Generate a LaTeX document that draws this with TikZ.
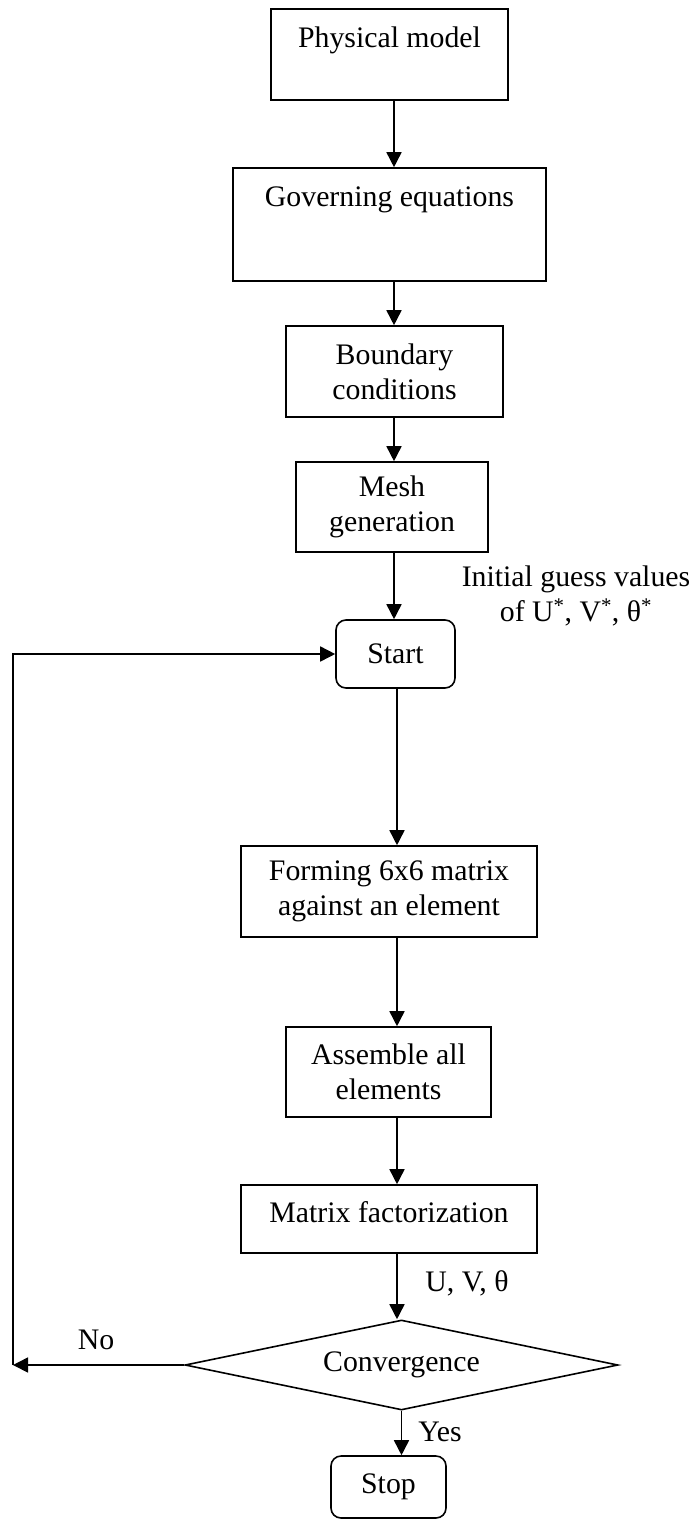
\documentclass[tikz,border=0pt]{standalone}
\usepackage{fontspec}
\setmainfont{Liberation Serif}
\usetikzlibrary{arrows.meta,shapes.geometric}
\begin{document}
\begin{tikzpicture}[x=1pt,y=-1pt,
  every node/.style={font=\fontsize{29.8}{35}\selectfont},
  box/.style={draw,line width=1.6pt,rectangle,align=center,inner sep=0pt},
  rbox/.style={box,rounded corners=10pt},
  arr/.style={line width=1.6pt,-{Triangle[length=15pt,width=15pt]}},
  ln/.style={line width=1.6pt},
  lbl/.style={align=center,inner sep=0pt}]
\path (0,0) rectangle (697,1521);
% nodes
\node[box,minimum width=237pt,minimum height=91pt,text height=20pt,text depth=35pt] (phys) at (389.5,54.5) {Physical model};
\node[box,minimum width=313pt,minimum height=113pt,text height=20pt,text depth=57pt] (gov) at (389.5,224.5) {Governing equations};
\node[box,minimum width=217pt,minimum height=91pt] (bound) at (394.5,371.5) {Boundary\\conditions};
\node[box,minimum width=192pt,minimum height=90pt] (mesh) at (392,507) {Mesh\\generation};
\node[rbox,minimum width=119pt,minimum height=68pt] (start) at (395.5,654) {Start};
\node[box,minimum width=296pt,minimum height=91pt] (form) at (389,891.5) {Forming 6x6 matrix\\against an element};
\node[box,minimum width=205pt,minimum height=90pt] (asm) at (388.5,1072) {Assemble all\\elements};
\node[box,minimum width=296pt,minimum height=68pt,text height=20pt,text depth=14pt] (mat) at (389,1219) {Matrix factorization};
\node[draw,diamond,line width=1.6pt,minimum width=433pt,minimum height=90pt,inner sep=0pt,aspect=4.8] (conv) at (401.5,1365) {Convergence};
\node[rbox,minimum width=115pt,minimum height=62pt] (stop) at (388.5,1487) {Stop};
% labels
\node[lbl] (init) at (576,596) {Initial guess values\\of U\textsuperscript{*}, V\textsuperscript{*}, θ\textsuperscript{*}};
\node[lbl] (uvt) at (467,1283) {U, V, θ};
\node[lbl] (no) at (96,1340) {No};
\node[lbl] (yes) at (440,1432) {Yes};
% helper coordinates
\coordinate (xa) at (394,0);
\coordinate (xb) at (397,0);
\coordinate (lb) at (13,1365);
% connectors
\draw[arr] (phys.south -| xa) -- (gov.north -| xa);
\draw[arr] (gov.south -| xa) -- (bound.north -| xa);
\draw[arr] (bound.south -| xa) -- (mesh.north -| xa);
\draw[arr] (mesh.south -| xa) -- (start.north -| xa);
\draw[arr] (start.south -| xb) -- (form.north -| xb);
\draw[arr] (form.south -| xb) -- (asm.north -| xb);
\draw[arr] (asm.south -| xb) -- (mat.north -| xb);
\draw[arr] (mat.south -| xb) -- (conv.north -| xb);
\draw[arr] (conv.south) -- (conv.south |- stop.north);
\draw[arr] (conv.west) -- (lb);
\draw[arr,line join=miter] (lb) -- (lb |- start.west) -- (start.west);
\end{tikzpicture}
\end{document}
